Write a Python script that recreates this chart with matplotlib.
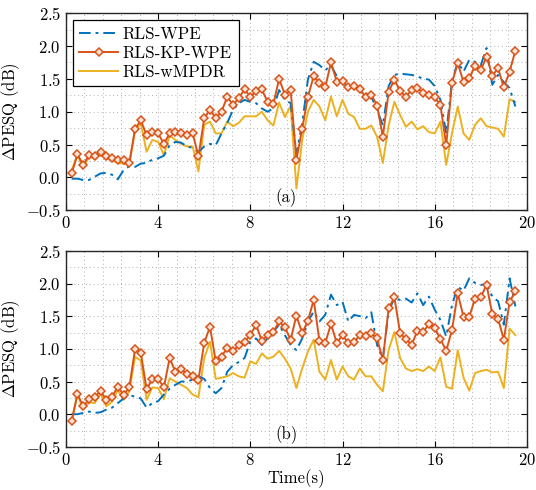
import numpy as np
import matplotlib
matplotlib.use("Agg")
import matplotlib.pyplot as plt
from matplotlib.ticker import MultipleLocator

# -- data (one value per frame) -----------------------------------------------
hop = 0.25
n_frames = 78
t = hop * np.arange(1, n_frames + 1)

wpe_a = [-0.02, -0.02, -0.04, -0.04, 0.01, 0.06, 0.07, 0.04, -0.03, 0.11,
         0.17, 0.16, 0.21, 0.22, 0.27, 0.29, 0.33, 0.49, 0.54, 0.53,
         0.47, 0.45, 0.39, 0.47, 0.51, 0.49, 0.67, 0.83, 1.03, 1.13,
         1.18, 1.15, 1.13, 1.05, 1.00, 1.05, 1.33, 1.18, 1.13, 0.36,
         0.82, 1.49, 1.76, 1.71, 1.63, 1.71, 1.54, 1.41, 1.39, 1.38,
         1.34, 1.28, 1.23, 1.03, 0.79, 1.39, 1.56, 1.58, 1.57, 1.56,
         1.54, 1.50, 1.49, 1.39, 1.18, 0.67, 1.46, 1.76, 1.61, 1.79,
         1.76, 1.71, 1.97, 1.41, 1.56, 1.45, 1.36, 1.08]
kp_a = [0.06, 0.35, 0.19, 0.34, 0.33, 0.39, 0.33, 0.29, 0.27, 0.27,
        0.22, 0.74, 0.87, 0.64, 0.69, 0.67, 0.51, 0.67, 0.69, 0.67,
        0.64, 0.67, 0.32, 0.90, 1.03, 0.90, 1.00, 1.23, 1.10, 1.21,
        1.34, 1.23, 1.31, 1.34, 1.15, 1.12, 1.50, 1.26, 1.33, 0.27,
        0.74, 1.23, 1.54, 1.44, 1.37, 1.75, 1.46, 1.47, 1.37, 1.39,
        1.34, 1.23, 1.26, 1.09, 0.62, 1.30, 1.49, 1.31, 1.23, 1.33,
        1.36, 1.29, 1.26, 1.22, 1.10, 0.49, 1.44, 1.74, 1.45, 1.51,
        1.70, 1.63, 1.84, 1.55, 1.66, 1.37, 1.61, 1.93]
mpdr_a = [0.11, 0.34, 0.14, 0.32, 0.28, 0.35, 0.29, 0.26, 0.22, 0.21,
          0.19, 0.72, 0.82, 0.39, 0.57, 0.54, 0.34, 0.64, 0.57, 0.51,
          0.47, 0.47, 0.09, 0.80, 0.85, 0.67, 0.67, 0.85, 0.78, 0.83,
          0.93, 0.93, 0.93, 1.00, 0.87, 0.79, 1.14, 0.92, 1.09, -0.17,
          0.57, 1.00, 1.18, 1.08, 0.87, 1.23, 0.93, 1.18, 0.97, 0.92,
          0.74, 0.74, 0.79, 0.62, 0.22, 0.79, 1.15, 0.95, 0.77, 0.85,
          0.73, 0.78, 0.69, 0.67, 0.85, 0.19, 0.67, 1.08, 0.67, 0.57,
          0.80, 0.90, 0.78, 0.76, 0.74, 0.62, 1.19, 1.15]

wpe_b = [0.00, 0.00, 0.02, 0.04, 0.02, 0.03, 0.07, 0.10, 0.17, 0.24,
         0.29, 0.27, 0.24, 0.10, 0.17, 0.20, 0.30, 0.39, 0.45, 0.50,
         0.50, 0.53, 0.58, 0.54, 0.40, 0.32, 0.40, 0.65, 0.75, 0.80,
         0.86, 1.11, 1.16, 1.06, 1.16, 1.26, 1.37, 1.21, 1.06, 0.98,
         1.16, 1.42, 1.57, 1.42, 1.52, 1.83, 1.67, 1.72, 1.42, 1.52,
         1.50, 1.47, 1.56, 1.06, 0.85, 1.58, 1.77, 1.75, 1.77, 1.71,
         1.85, 1.67, 1.80, 1.60, 1.44, 1.19, 1.67, 1.95, 1.89, 2.08,
         2.01, 1.98, 1.99, 1.80, 1.73, 1.37, 2.08, 1.65]
kp_b = [-0.11, 0.31, 0.12, 0.23, 0.26, 0.36, 0.22, 0.27, 0.42, 0.30,
        0.41, 1.00, 0.94, 0.38, 0.54, 0.54, 0.41, 0.86, 0.65, 0.69,
        0.61, 0.58, 0.53, 1.09, 1.34, 0.81, 0.88, 1.02, 0.96, 1.06,
        1.11, 1.21, 1.37, 1.12, 1.21, 1.26, 1.42, 1.33, 1.14, 1.51,
        1.24, 1.43, 1.75, 1.12, 1.09, 1.38, 1.09, 1.21, 1.09, 1.10,
        1.21, 1.20, 1.24, 1.16, 0.83, 1.62, 1.79, 1.24, 1.15, 1.06,
        1.28, 1.26, 1.38, 1.32, 1.15, 0.97, 1.29, 1.85, 1.49, 1.49,
        1.77, 1.79, 1.98, 1.53, 1.46, 1.14, 1.72, 1.88]
mpdr_b = [-0.09, 0.30, 0.08, 0.18, 0.17, 0.32, 0.12, 0.19, 0.37, 0.22,
          0.35, 0.88, 0.82, 0.22, 0.41, 0.40, 0.23, 0.55, 0.50, 0.45,
          0.40, 0.30, 0.26, 0.86, 1.11, 0.54, 0.56, 0.58, 0.63, 0.58,
          0.56, 0.81, 0.77, 0.93, 0.85, 0.88, 0.97, 0.85, 0.70, 0.40,
          0.70, 0.96, 1.14, 0.65, 0.53, 0.83, 0.53, 0.73, 0.58, 0.53,
          0.70, 0.58, 0.58, 0.45, 0.35, 0.98, 1.26, 0.86, 0.70, 0.66,
          0.69, 0.66, 0.73, 0.66, 0.87, 0.42, 0.39, 0.98, 0.56, 0.36,
          0.63, 0.66, 0.68, 0.64, 0.65, 0.40, 1.31, 1.21]

labels = ["RLS-WPE", "RLS-KP-WPE", "RLS-wMPDR"]
panel_tags = ["(a)", "(b)"]

# -- style ---------------------------------------------------------------------
plt.rcParams["font.family"] = ["cmr10", "DejaVu Serif"]
plt.rcParams["mathtext.fontset"] = "cm"
plt.rcParams["axes.formatter.use_mathtext"] = True
plt.rcParams["axes.unicode_minus"] = True

c_blue = "#0072BD"
c_orange = "#D95319"
c_yellow = "#EDB120"
fs = 12

fig = plt.figure(figsize=(5.36, 4.90), dpi=100)
ax_a = fig.add_axes([0.123, 0.571, 0.860, 0.402])
ax_b = fig.add_axes([0.123, 0.088, 0.860, 0.400])

for ax, wpe, kp, mpdr, tag in [(ax_a, wpe_a, kp_a, mpdr_a, panel_tags[0]),
                               (ax_b, wpe_b, kp_b, mpdr_b, panel_tags[1])]:
    ax.plot(t, wpe, color=c_blue, lw=1.4, linestyle=(0, (6, 2.5, 1.5, 2.5)),
            label=labels[0], zorder=3)
    ax.plot(t, kp, color=c_orange, lw=1.4, marker="D", markersize=4.2,
            markerfacecolor="#fbe3d6", markeredgewidth=1.1,
            label=labels[1], zorder=4)
    ax.plot(t, mpdr, color=c_yellow, lw=1.4, label=labels[2], zorder=2)

    ax.set_xlim(0, 20)
    ax.set_ylim(-0.5, 2.5)
    ax.xaxis.set_major_locator(MultipleLocator(4))
    ax.xaxis.set_minor_locator(MultipleLocator(0.8))
    ax.yaxis.set_major_locator(MultipleLocator(0.5))
    ax.yaxis.set_minor_locator(MultipleLocator(0.25))
    ax.grid(which="both", color="#b0b0b0", linestyle=(0, (1, 3)), linewidth=0.7)
    ax.set_axisbelow(True)
    ax.tick_params(which="major", direction="in", top=True, right=True,
                   length=4, width=0.8, labelsize=fs)
    ax.tick_params(which="minor", length=0)
    for sp in ax.spines.values():
        sp.set_linewidth(1.0)
        sp.set_color("#262626")
    ax.set_ylabel(r"$\Delta$PESQ (dB)", fontsize=fs, labelpad=3)
    ax.text(9.55, -0.31, tag, fontsize=fs, ha="center", va="center")

ax_b.set_xlabel("Time(s)", fontsize=fs, labelpad=1)

leg = ax_a.legend(loc="upper left", fontsize=12.2, frameon=True, fancybox=False,
                  framealpha=1, edgecolor="black", handlelength=2.3,
                  handletextpad=0.25, borderpad=0.4, labelspacing=0.2,
                  borderaxespad=0.4)
leg.get_frame().set_linewidth(0.9)

fig.savefig("out.png", dpi=100)
